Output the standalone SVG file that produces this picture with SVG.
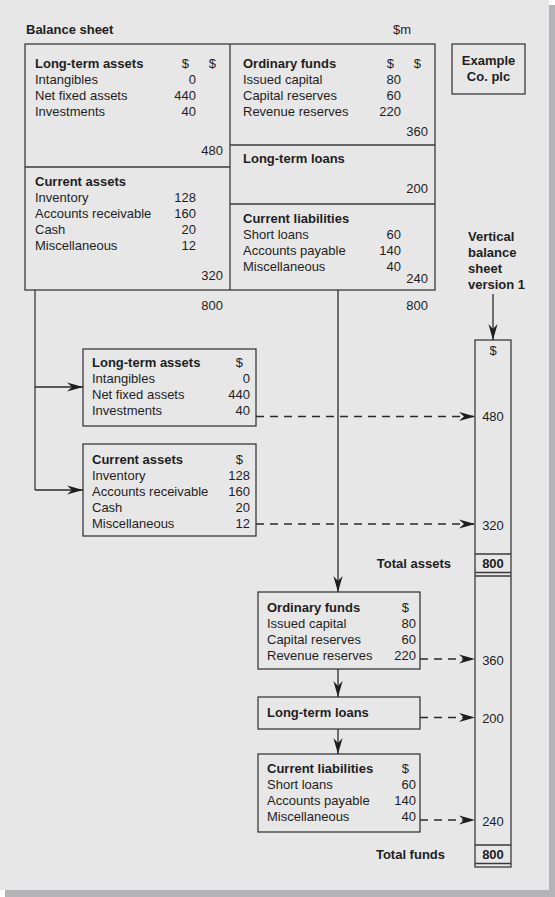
<svg xmlns="http://www.w3.org/2000/svg" width="555" height="897" viewBox="0 0 555 897">
<defs>
<style>
text{font-family:"Liberation Sans",Arial,sans-serif;font-size:13px;fill:#1e1e1e}
.b{font-weight:bold}
.e{text-anchor:end}
.m{text-anchor:middle}
.box{fill:none;stroke:#3a3a3a;stroke-width:1.3}
.ln{fill:none;stroke:#3a3a3a;stroke-width:1.3}
.ar{fill:none;stroke:#2a2a2a;stroke-width:1.3;marker-end:url(#ah)}
.da{fill:none;stroke:#2a2a2a;stroke-width:1.3;stroke-dasharray:8 6;marker-end:url(#ah)}
</style>
<marker id="ah" viewBox="-16 -5 16 10" refX="0" refY="0" markerWidth="16" markerHeight="10" markerUnits="userSpaceOnUse" orient="auto">
<path d="M0,0 L-16,-4.6 L-11,0 L-16,4.6 Z" fill="#1e1e1e"/>
</marker>
</defs>
<rect x="5" y="5" width="550" height="892" fill="#b4b4b7"/>
<rect x="0" y="0" width="549" height="890" fill="#e7e7e7"/>

<text x="26" y="34" class="b">Balance sheet</text>
<text x="393" y="34">$m</text>

<g id="main-table">
<rect class="box" x="25" y="44" width="410" height="246"/>
<line class="ln" x1="230" y1="44" x2="230" y2="290"/>
<line class="ln" x1="25" y1="167" x2="230" y2="167"/>
<line class="ln" x1="230" y1="145" x2="435" y2="145"/>
<line class="ln" x1="230" y1="204" x2="435" y2="204"/>
<text x="35" y="68" class="b">Long-term assets</text>
<text x="189" y="68" class="e">$</text>
<text x="216" y="68" class="e">$</text>
<text x="35" y="84">Intangibles</text><text x="196" y="84" class="e">0</text>
<text x="35" y="100">Net fixed assets</text><text x="196" y="100" class="e">440</text>
<text x="35" y="116">Investments</text><text x="196" y="116" class="e">40</text>
<text x="223" y="155" class="e">480</text>
<text x="35" y="186" class="b">Current assets</text>
<text x="35" y="202">Inventory</text><text x="196" y="202" class="e">128</text>
<text x="35" y="218">Accounts receivable</text><text x="196" y="218" class="e">160</text>
<text x="35" y="234">Cash</text><text x="196" y="234" class="e">20</text>
<text x="35" y="250">Miscellaneous</text><text x="196" y="250" class="e">12</text>
<text x="223" y="280" class="e">320</text>
<text x="243" y="68" class="b">Ordinary funds</text>
<text x="394" y="68" class="e">$</text>
<text x="421" y="68" class="e">$</text>
<text x="243" y="84">Issued capital</text><text x="401" y="84" class="e">80</text>
<text x="243" y="100">Capital reserves</text><text x="401" y="100" class="e">60</text>
<text x="243" y="116">Revenue reserves</text><text x="401" y="116" class="e">220</text>
<text x="428" y="136" class="e">360</text>
<text x="243" y="163" class="b">Long-term loans</text>
<text x="428" y="193" class="e">200</text>
<text x="243" y="222.5" class="b">Current liabilities</text>
<text x="243" y="238.5">Short loans</text><text x="401" y="238.5" class="e">60</text>
<text x="243" y="254.5">Accounts payable</text><text x="401" y="254.5" class="e">140</text>
<text x="243" y="270.5">Miscellaneous</text><text x="401" y="270.5" class="e">40</text>
<text x="428" y="283" class="e">240</text>
<text x="223" y="309.5" class="e">800</text>
<text x="428" y="309.5" class="e">800</text>
</g>

<g id="example-co">
<rect class="box" x="452" y="44" width="73" height="50"/>
<text x="488.5" y="65" class="b m">Example</text>
<text x="488.5" y="81" class="b m">Co. plc</text>
</g>

<g id="vertical-label">
<text x="468" y="240.5" class="b">Vertical</text>
<text x="468" y="256.5" class="b">balance</text>
<text x="468" y="272.5" class="b">sheet</text>
<text x="468" y="288.5" class="b">version 1</text>
</g>

<g id="lt-assets">
<rect class="box" x="83" y="349" width="173" height="77"/>
<text x="92" y="367" class="b">Long-term assets</text>
<text x="243" y="367" class="e">$</text>
<text x="92" y="383">Intangibles</text><text x="250" y="383" class="e">0</text>
<text x="92" y="399">Net fixed assets</text><text x="250" y="399" class="e">440</text>
<text x="92" y="415">Investments</text><text x="250" y="415" class="e">40</text>
</g>

<g id="cur-assets">
<rect class="box" x="83" y="444" width="173" height="92"/>
<text x="92" y="464" class="b">Current assets</text>
<text x="243" y="464" class="e">$</text>
<text x="92" y="480">Inventory</text><text x="250" y="480" class="e">128</text>
<text x="92" y="496">Accounts receivable</text><text x="250" y="496" class="e">160</text>
<text x="92" y="512">Cash</text><text x="250" y="512" class="e">20</text>
<text x="92" y="528">Miscellaneous</text><text x="250" y="528" class="e">12</text>
</g>

<g id="ord-funds">
<rect class="box" x="258" y="592" width="162" height="77"/>
<text x="267" y="611.5" class="b">Ordinary funds</text>
<text x="409" y="611.5" class="e">$</text>
<text x="267" y="627.5">Issued capital</text><text x="416" y="627.5" class="e">80</text>
<text x="267" y="643.5">Capital reserves</text><text x="416" y="643.5" class="e">60</text>
<text x="267" y="659.5">Revenue reserves</text><text x="416" y="659.5" class="e">220</text>
</g>

<g id="lt-loans">
<rect class="box" x="258" y="697" width="162" height="32"/>
<text x="267" y="716.5" class="b">Long-term loans</text>
</g>

<g id="cur-liab">
<rect class="box" x="258" y="754" width="162" height="78"/>
<text x="267" y="773" class="b">Current liabilities</text>
<text x="409" y="773" class="e">$</text>
<text x="267" y="789">Short loans</text><text x="416" y="789" class="e">60</text>
<text x="267" y="805">Accounts payable</text><text x="416" y="805" class="e">140</text>
<text x="267" y="821">Miscellaneous</text><text x="416" y="821" class="e">40</text>
</g>

<g id="vertical-sheet">
<rect class="box" x="475" y="340" width="36" height="527"/>
<line class="ln" x1="475" y1="554" x2="511" y2="554"/>
<line class="ln" x1="475" y1="572.5" x2="511" y2="572.5"/>
<line class="ln" x1="475" y1="576" x2="511" y2="576"/>
<line class="ln" x1="475" y1="845" x2="511" y2="845"/>
<line class="ln" x1="475" y1="863.5" x2="511" y2="863.5"/>
<text x="493" y="355" class="m">$</text>
<text x="493" y="421" class="m">480</text>
<text x="493" y="530" class="m">320</text>
<text x="493" y="568" class="b m">800</text>
<text x="493" y="664.5" class="m">360</text>
<text x="493" y="723" class="m">200</text>
<text x="493" y="825.5" class="m">240</text>
<text x="493" y="859" class="b m">800</text>
<text x="451" y="568" class="b e">Total assets</text>
<text x="445" y="859" class="b e">Total funds</text>
</g>

<g id="connectors">
<path class="ar" d="M493,294 V340"/>
<path class="ln" d="M35,290 V490"/>
<path class="ar" d="M35,387 H83"/>
<path class="ar" d="M35,490 H83"/>
<path class="ar" d="M338,290 V592"/>
<path class="ar" d="M338,669 V697"/>
<path class="ar" d="M338,729 V754"/>
<path class="da" d="M256,416.5 H475"/>
<path class="da" d="M256,524 H475"/>
<path class="da" d="M420,659 H475"/>
<path class="da" d="M420,717.5 H475"/>
<path class="da" d="M420,820 H475"/>
</g>
</svg>
